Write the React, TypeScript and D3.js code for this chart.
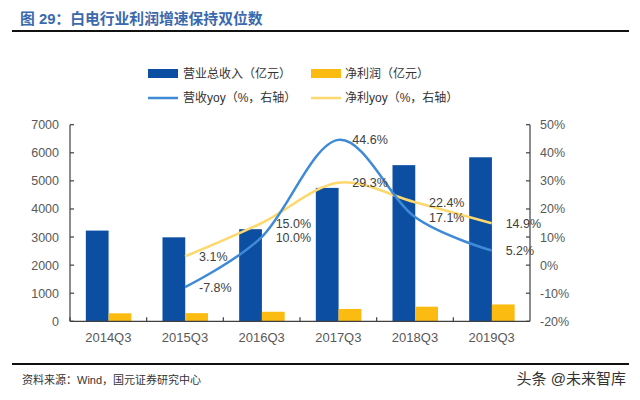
import * as d3 from "d3"

const categories = ["2014Q3", "2015Q3", "2016Q3", "2017Q3", "2018Q3", "2019Q3"]
const revenue = [3230, 2990, 3280, 4750, 5560, 5840]
const profit = [285, 290, 340, 440, 520, 600]
const yoyCategories = ["2015Q3", "2016Q3", "2017Q3", "2018Q3", "2019Q3"]
const revenueYoy = [-7.8, 10.0, 44.6, 17.1, 5.2]
const profitYoy = [3.1, 15.0, 29.3, 22.4, 14.9]
const leftTicks = [0, 1000, 2000, 3000, 4000, 5000, 6000, 7000]
const rightTicks = [-20, -10, 0, 10, 20, 30, 40, 50]

const blue = "#0c4ea2"
const yellow = "#fbbb10"
const blueLine = "#3f8ad6"
const yellowLine = "#fdd86c"
const axisColor = "#404040"
const labelColor = "#595959"
const latin = "'Liberation Sans', Arial, sans-serif"
const cjk = "'Liberation Sans', 'Noto Sans CJK SC', sans-serif"

export default function App() {
  const width = 640
  const height = 400
  const left = 70
  const right = 530
  const top = 124.7
  const bottom = 321.3

  const x = d3.scaleBand<string>().domain(categories).range([left, right])
  const center = (c: string) => (x(c) ?? 0) + x.bandwidth() / 2
  const yLeft = d3.scaleLinear().domain([0, 7000]).range([bottom, top])
  const yRight = d3.scaleLinear().domain([-20, 50]).range([bottom, top])
  const inner = d3.scaleBand<string>().domain(["rev", "profit"]).range([-22.5, 23])

  const line = d3
    .line<number>()
    .x((_, i) => center(yoyCategories[i]))
    .y((d) => yRight(d))
    .curve(d3.curveCardinal.tension(0))

  const labels = (vals: number[]) =>
    vals.map((v, i) => (
      <text
        key={i}
        x={center(yoyCategories[i]) + 14}
        y={yRight(v)}
        dy="0.36em"
        fontSize={12.5}
        fill={axisColor}
        fontFamily={latin}
      >
        {v.toFixed(1)}%
      </text>
    ))

  return (
    <svg width={width} height={height} style={{ position: "absolute", left: 0, top: 0, background: "#fff" }}>
      {/* title */}
      <text x={20} y={19} dy="0.36em" fontSize={14.8} fontWeight="bold" fill="#3a69ad" fontFamily={cjk}>
        图 29：白电行业利润增速保持双位数
      </text>
      <line x1={12} x2={629} y1={31} y2={31} stroke="#111" strokeWidth={2} />

      {/* legend */}
      <g fontFamily={cjk} fontSize={12} fill="#333">
        <rect x={148} y={69} width={30} height={9} fill={blue} />
        <text x={183} y={73.5} dy="0.36em">营业总收入（亿元）</text>
        <rect x={311} y={69} width={30} height={9} fill={yellow} />
        <text x={345} y={73.5} dy="0.36em">净利润（亿元）</text>
        <line x1={148} x2={178} y1={98} y2={98} stroke={blueLine} strokeWidth={2.5} />
        <text x={183} y={98} dy="0.36em">营收yoy（%，右轴）</text>
        <line x1={311} x2={341} y1={98} y2={98} stroke={yellowLine} strokeWidth={2.5} />
        <text x={345} y={98} dy="0.36em">净利yoy（%，右轴）</text>
      </g>

      {/* bars */}
      {categories.map((c, i) => (
        <g key={c}>
          <rect
            x={center(c) + (inner("rev") ?? 0)}
            y={yLeft(revenue[i])}
            width={inner.bandwidth()}
            height={bottom - yLeft(revenue[i])}
            fill={blue}
          />
          <rect
            x={center(c) + (inner("profit") ?? 0)}
            y={yLeft(profit[i])}
            width={inner.bandwidth()}
            height={bottom - yLeft(profit[i])}
            fill={yellow}
          />
        </g>
      ))}

      {/* lines */}
      <path d={line(profitYoy) || undefined} fill="none" stroke={yellowLine} strokeWidth={2.5} />
      <path d={line(revenueYoy) || undefined} fill="none" stroke={blueLine} strokeWidth={2.5} />
      {labels(profitYoy)}
      {labels(revenueYoy)}

      {/* axes */}
      <g stroke={axisColor} strokeWidth={1.2}>
        <line x1={left} x2={left} y1={top} y2={bottom} />
        <line x1={right} x2={right} y1={top} y2={bottom} />
        <line x1={left} x2={right} y1={bottom} y2={bottom} />
        {leftTicks.map((t) => (
          <line key={t} x1={left} x2={left + 4} y1={yLeft(t)} y2={yLeft(t)} />
        ))}
        {rightTicks.map((t) => (
          <line key={t} x1={right - 4} x2={right} y1={yRight(t)} y2={yRight(t)} />
        ))}
        {categories.map((c) => (
          <line key={c} x1={x(c)} x2={x(c)} y1={bottom} y2={bottom - 4} />
        ))}
      </g>
      <g fontFamily={latin} fontSize={12.5} fill={labelColor}>
        {leftTicks.map((t) => (
          <text key={t} x={59} y={yLeft(t)} dy="0.36em" textAnchor="end">
            {t}
          </text>
        ))}
        {rightTicks.map((t) => (
          <text key={t} x={540} y={yRight(t)} dy="0.36em">
            {t}%
          </text>
        ))}
        {categories.map((c) => (
          <text key={c} x={center(c)} y={337} dy="0.36em" textAnchor="middle" fontSize={13}>
            {c}
          </text>
        ))}
      </g>

      {/* footer */}
      <line x1={12} x2={629} y1={364} y2={364} stroke="#111" strokeWidth={2} />
      <text x={22} y={380} dy="0.36em" fontSize={11} fill="#333" fontFamily={cjk}>
        资料来源：Wind，国元证券研究中心
      </text>
      <text x={626} y={379} dy="0.36em" fontSize={15} fill="#333" textAnchor="end" fontFamily={cjk}>
        头条 @未来智库
      </text>
    </svg>
  )
}
